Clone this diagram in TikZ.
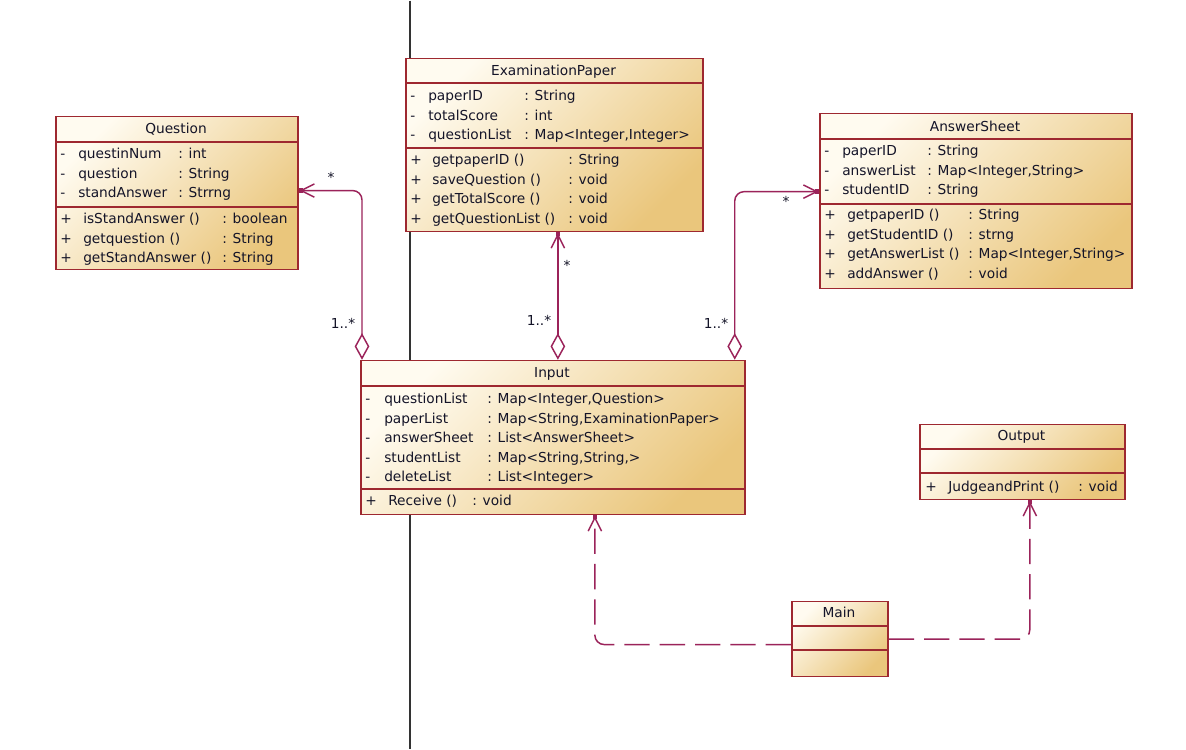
\documentclass[tikz,border=0pt]{standalone}
\usepackage{fontspec}
\setmainfont{DejaVu Sans}
\usetikzlibrary{arrows.meta}

\definecolor{umlLine}{RGB}{158,40,48}
\definecolor{umlLink}{RGB}{155,35,90}
\definecolor{umlLight}{RGB}{255,251,240}
\definecolor{umlDark}{RGB}{234,198,124}
\definecolor{umlText}{RGB}{20,20,40}

\begin{document}
\begin{tikzpicture}[
    x=0.75pt, y=-0.75pt,
    every node/.style={font=\fontsize{10.3}{14.6}\selectfont, text=umlText, inner sep=0pt},
    classbox/.style={rectangle, draw=umlLine, line width=1.3pt, left color=umlLight, right color=umlDark, shading angle=45, anchor=north west},
    sepline/.style={draw=umlLine, line width=1.3pt},
    classtitle/.style={anchor=base},
    memberlist/.style={anchor=base west, align=left},
    multlabel/.style={anchor=base},
    divider/.style={draw=black!80, line width=1.1pt},
    umllink/.style={draw=umlLink, line width=1.1pt, rounded corners=7pt},
    aggr/.style={umllink, {Diamond[fill=white, length=20pt, width=11pt]}-{Straight Barb[length=10pt, width=10pt, sep=-2.5pt]Square[length=3pt, width=3.5pt]}},
    depend/.style={umllink, dash pattern=on 19pt off 7.5pt, -{Straight Barb[length=10pt, width=10pt, sep=-2.5pt]Square[length=3pt, width=3.5pt]}}
]

% --- Fondo y linea vertical
\fill[white] (0,0) rectangle (1186,748);
\draw[divider] (410,0) -- (410,748);

% --- Cajas de clases
\node[classbox, minimum width=181.5pt, minimum height=114.75pt] (question) at (55,115) {};
\node[classbox, minimum width=222.75pt, minimum height=129.75pt] (exam) at (405,57) {};
\node[classbox, minimum width=234pt, minimum height=131.25pt] (answer) at (819,112) {};
\node[classbox, minimum width=288pt, minimum height=115.5pt] (input) at (360,359) {};
\node[classbox, minimum width=153.75pt, minimum height=56.25pt] (output) at (919,423) {};
\node[classbox, minimum width=72pt, minimum height=56.25pt] (main) at (791,600) {};

% --- Separadores de compartimentos
\draw[sepline] (question.west |- 0,141) -- (question.east |- 0,141);
\draw[sepline] (question.west |- 0,206) -- (question.east |- 0,206);
\draw[sepline] (exam.west |- 0,82) -- (exam.east |- 0,82);
\draw[sepline] (exam.west |- 0,147) -- (exam.east |- 0,147);
\draw[sepline] (answer.west |- 0,138) -- (answer.east |- 0,138);
\draw[sepline] (answer.west |- 0,203) -- (answer.east |- 0,203);
\draw[sepline] (input.west |- 0,385) -- (input.east |- 0,385);
\draw[sepline] (input.west |- 0,488) -- (input.east |- 0,488);
\draw[sepline] (output.west |- 0,448) -- (output.east |- 0,448);
\draw[sepline] (output.west |- 0,472) -- (output.east |- 0,472);
\draw[sepline] (main.west |- 0,625) -- (main.east |- 0,625);
\draw[sepline] (main.west |- 0,649) -- (main.east |- 0,649);

% --- Question
\node[classtitle] (qtitle) at (176,133) {Question};
\node[memberlist] (qattr) at (60,158) {\begin{tabular}[t]{@{}p{13.5pt}@{}p{75pt}@{}l@{}}
    - & questinNum & : int\\
    - & question & : String\\
    - & standAnswer & : Strrng
  \end{tabular}};
\node[memberlist] (qops) at (60,223) {\begin{tabular}[t]{@{}p{17.25pt}@{}p{104.25pt}@{}l@{}}
    + & isStandAnswer () & : boolean\\
    + & getquestion () & : String\\
    + & getStandAnswer () & : String
  \end{tabular}};

% --- ExaminationPaper
\node[classtitle] (etitle) at (553.5,75) {ExaminationPaper};
\node[memberlist] (eattr) at (410,100) {\begin{tabular}[t]{@{}p{13.5pt}@{}p{72pt}@{}l@{}}
    - & paperID & : String\\
    - & totalScore & : int\\
    - & questionList & : Map<Integer,Integer>
  \end{tabular}};
\node[memberlist] (eops) at (410,164) {\begin{tabular}[t]{@{}p{16.5pt}@{}p{102pt}@{}l@{}}
    + & getpaperID () & : String\\
    + & saveQuestion () & : void\\
    + & getTotalScore () & : void\\
    + & getQuestionList () & : void
  \end{tabular}};

% --- AnswerSheet
\node[classtitle] (atitle) at (975,131) {AnswerSheet};
\node[memberlist] (aattr) at (824,155) {\begin{tabular}[t]{@{}p{13.5pt}@{}p{63.75pt}@{}l@{}}
    - & paperID & : String\\
    - & answerList & : Map<Integer,String>\\
    - & studentID & : String
  \end{tabular}};
\node[memberlist] (aops) at (824,219) {\begin{tabular}[t]{@{}p{17.25pt}@{}p{90.75pt}@{}l@{}}
    + & getpaperID () & : String\\
    + & getStudentID () & : strng\\
    + & getAnswerList () & : Map<Integer,String>\\
    + & addAnswer () & : void
  \end{tabular}};

% --- Input
\node[classtitle] (ititle) at (552,377) {Input};
\node[memberlist] (iattr) at (365,403) {\begin{tabular}[t]{@{}p{14.25pt}@{}p{77.25pt}@{}l@{}}
    - & questionList & : Map<Integer,Question>\\
    - & paperList & : Map<String,ExaminationPaper>\\
    - & answerSheet & : List<AnswerSheet>\\
    - & studentList & : Map<String,String,>\\
    - & deleteList & : List<Integer>
  \end{tabular}};
\node[memberlist] (iops) at (365,505) {\begin{tabular}[t]{@{}p{17.25pt}@{}p{63pt}@{}l@{}}
    + & Receive () & : void
  \end{tabular}};

% --- Output y Main
\node[classtitle] (otitle) at (1021.5,440) {Output};
\node[memberlist] (oops) at (925,491) {\begin{tabular}[t]{@{}p{17.25pt}@{}p{97.5pt}@{}l@{}}
    + & JudgeandPrint () & : void
  \end{tabular}};
\node[classtitle] (mtitle) at (839,617) {Main};

% --- Agregaciones
\coordinate (examfoot) at ([xshift=3.75pt]input.north);
\draw[aggr] ([xshift=1.5pt]input.north west) |- ([yshift=1.9pt]question.east);
\draw[aggr] (examfoot) -- (examfoot |- exam.south);
\draw[aggr] ([xshift=-8.25pt]input.north east) |- ([yshift=7.1pt]answer.west);

\node[multlabel] (qstar) at (331,182) {*};
\node[multlabel] (qmany) at (343,328) {1..*};
\node[multlabel] (estar) at (567,270) {*};
\node[multlabel] (emany) at (539,325) {1..*};
\node[multlabel] (astar) at (786,206) {*};
\node[multlabel] (amany) at (716,328) {1..*};

% --- Dependencias desde Main
\draw[depend] ([yshift=-4.1pt]main.west) -| ([xshift=31.5pt]input.south);
\draw[depend] (main.east) -| ([xshift=5.6pt]output.south);

\end{tikzpicture}
\end{document}
